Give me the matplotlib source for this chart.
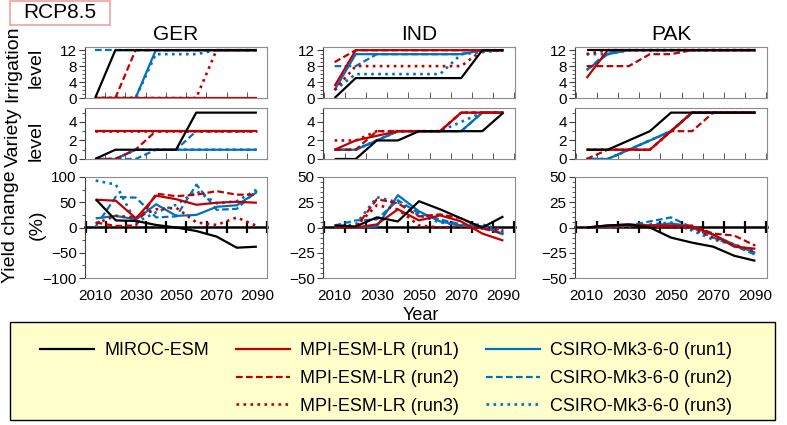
import matplotlib
matplotlib.use('Agg')
import matplotlib.pyplot as plt
from matplotlib import font_manager
from matplotlib.lines import Line2D
from matplotlib.patches import Rectangle
from matplotlib.ticker import MultipleLocator

W, H = 787, 425

YEARS = [2010, 2020, 2030, 2040, 2050, 2060, 2070, 2080, 2090]
BOUNDARIES = [2005, 2015, 2025, 2035, 2045, 2055, 2065, 2075, 2085, 2095]
COUNTRIES = ['GER', 'IND', 'PAK']

SERIES = ['MIROC-ESM',
          'MPI-ESM-LR (run1)', 'MPI-ESM-LR (run2)', 'MPI-ESM-LR (run3)',
          'CSIRO-Mk3-6-0 (run1)', 'CSIRO-Mk3-6-0 (run2)', 'CSIRO-Mk3-6-0 (run3)']

# rows follow SERIES order
GER_IRR = [
    [0, 12, 12, 12, 12, 12, 12, 12, 12],
    [0, 0, 0, 0, 0, 0, 0, 0, 0],
    [0, 0, 12, 12, 12, 12, 12, 12, 12],
    [0, 0, 0, 0, 0, 0, 12, 12, 12],
    [0, 0, 0, 12, 12, 12, 12, 12, 12],
    [12, 12, 12, 12, 12, 12, 12, 12, 12],
    [0, 0, 0, 11, 11, 11, 12, 12, 12],
]
IND_IRR = [
    [0, 5, 5, 5, 5, 5, 5, 12, 12],
    [3, 12, 12, 12, 12, 12, 12, 12, 12],
    [9, 12, 12, 12, 12, 12, 12, 12, 12],
    [2, 8, 8, 8, 8, 8, 8, 12, 12],
    [2, 11, 11, 11, 11, 11, 11, 12, 12],
    [8, 8, 11, 11, 11, 11, 11, 12, 12],
    [2, 6, 6, 6, 6, 6, 11, 11.5, 12],
]
PAK_IRR = [
    [12, 12, 12, 12, 12, 12, 12, 12, 12],
    [5, 12, 12, 12, 12, 12, 12, 12, 12],
    [8, 8, 8, 11, 11, 12, 12, 12, 12],
    [11, 12, 12, 12, 12, 12, 12, 12, 12],
    [7, 11, 12, 12, 12, 12, 12, 12, 12],
    [7, 11.5, 12, 12, 12, 12, 12, 12, 12],
    [11, 11, 12, 12, 12, 12, 12, 12, 12],
]

GER_VAR = [
    [0, 1, 1, 1, 1, 5, 5, 5, 5],
    [3, 3, 3, 3, 3, 3, 3, 3, 3],
    [0, 0, 1, 3, 3, 3, 3, 3, 3],
    [3, 3, 3, 3, 3, 3, 3, 3, 3],
    [0, 0, 1, 1, 1, 1, 1, 1, 1],
    [0, 0, 0, 1, 1, 3, 3, 3, 3],
    [0, 0, 1, 1, 1, 1, 1, 1, 1],
]
IND_VAR = [
    [0, 0, 2, 2, 3, 3, 3, 3, 5],
    [1, 2, 2.5, 3, 3, 3, 5, 5, 5],
    [1, 1, 3, 3, 3, 3, 5, 5, 5],
    [2, 2, 3, 3, 3, 3, 5, 5, 5],
    [1, 1, 2, 3, 3, 3, 3, 5, 5],
    [1, 1, 2, 3, 3, 3, 3, 5, 5],
    [1, 1, 2, 3, 3, 3, 4, 5, 5],
]
PAK_VAR = [
    [1, 1, 2, 3, 5, 5, 5, 5, 5],
    [1, 1, 1, 1, 3, 5, 5, 5, 5],
    [0, 1, 1, 1, 3, 3, 5, 5, 5],
    [1, 1, 1, 1, 3, 5, 5, 5, 5],
    [0, 0, 1, 2, 3, 5, 5, 5, 5],
    [0, 0, 1, 2, 3, 5, 5, 5, 5],
    [0, 0, 1, 2, 3, 5, 5, 5, 5],
]

GER_YLD = [
    [56, 14, 13, 5, 0, -7, -18, -40, -38],
    [55, 53, 18, 63, 56, 45, 49, 51, 49],
    [10, 3, 4, 67, 62, 65, 72, 65, 65],
    [8, 23, 20, 36, 39, 10, 5, 20, 3],
    [18, 23, 16, 46, 23, 25, 41, 44, 70],
    [2, 61, 59, 20, 22, 85, 35, 37, 73],
    [93, 85, 10, 30, 45, 72, 48, 52, 75],
]
IND_YLD = [
    [2, 1, 10, 6, 26, 18, 9, 0, 11],
    [1, 0, 3, 18, 7, 12, 6, -6, -13],
    [1, 0, 28, 24, 11, 13, 9, -1, -6],
    [1, 1, 22, 18, 2, 0, 1, -1, -3],
    [1, 0, 1, 32, 16, 6, 2, 1, -7],
    [2, 7, 8, 27, 14, 8, 3, 1, -5],
    [1, 3, 30, 25, 12, 5, 2, 3, -3],
]
PAK_YLD = [
    [0, 2, 3, 0, -10, -15, -19, -28, -33],
    [0, 2, 3, 2, 2, 1, -7, -19, -21],
    [0, 1, 2, 1, 1, 2, -6, -8, -18],
    [0, 1, 2, 1, 1, -1, -10, -17, -24],
    [0, 1, 2, 2, 4, 1, -7, -17, -25],
    [0, 0, 2, 6, 10, 0, -10, -18, -27],
    [0, 0, 1, 3, 5, -3, -12, -17, -24],
]

RED = '#C00000'
BLUE = '#0070C0'
COLORS = ['black', RED, RED, RED, BLUE, BLUE, BLUE]
DASH = (0, (3, 1.5))
STYLES = ['-', '-', DASH, ':', '-', DASH, ':']
DRAW_ORDER = [6, 5, 4, 3, 2, 1, 0]  # blue first, black on top

names = {f.name for f in font_manager.fontManager.ttflist}
FONT = 'Liberation Sans Narrow' if 'Liberation Sans Narrow' in names else 'Liberation Sans'
plt.rcParams['font.family'] = [FONT, 'DejaVu Sans']


def px_rect(x0, x1, y0, y1):
    return [x0 / W, 1 - y1 / H, (x1 - x0) / W, (y1 - y0) / H]


fig = plt.figure(figsize=(W / 100, H / 100), dpi=100)

col_px = [(85, 267), (323, 515), (575, 767)]
row_px = [(47, 98), (108, 159), (177, 278)]
panel_data = [[GER_IRR, GER_VAR, GER_YLD],
              [IND_IRR, IND_VAR, IND_YLD],
              [PAK_IRR, PAK_VAR, PAK_YLD]]

for c, country in enumerate(COUNTRIES):
    for r in range(3):
        ax = fig.add_axes(px_rect(col_px[c][0], col_px[c][1], row_px[r][0], row_px[r][1]))
        data = panel_data[c][r]
        for i in DRAW_ORDER:
            ax.plot(YEARS, data[i], color=COLORS[i], linestyle=STYLES[i],
                    lw=1.6 if STYLES[i] != ':' else 1.9, solid_capstyle='butt')

        if c == 0:
            ax.set_xlim(2005.8, 2091) if r < 2 else ax.set_xlim(2004.7, 2093.9)
        else:
            ax.set_xlim(2004.5, 2095.5)

        for sp in ax.spines.values():
            sp.set_color('#8c8c8c')
        ax.spines['left'].set_color('#404040')
        ax.tick_params(axis='y', which='both', direction='out', colors='#404040',
                       labelcolor='black', labelsize=11, pad=2)
        ax.tick_params(axis='y', which='major', length=4)
        ax.tick_params(axis='y', which='minor', length=2.5)

        ax.set_xticks([2010, 2030, 2050, 2070, 2090])
        ax.set_xticks(BOUNDARIES, minor=True)

        if r == 0:
            ax.set_ylim(0, 12.8)
            ax.set_yticks([0, 4, 8, 12])
            ax.yaxis.set_minor_locator(MultipleLocator(1))
        elif r == 1:
            ax.set_ylim(0, 5.5)
            ax.set_yticks([0, 2, 4])
            ax.yaxis.set_minor_locator(MultipleLocator(1))
        else:
            if c == 0:
                ax.set_ylim(-100, 100)
                ax.set_yticks([-100, -50, 0, 50, 100])
                ax.yaxis.set_minor_locator(MultipleLocator(25))
            else:
                ax.set_ylim(-50, 50)
                ax.set_yticks([-50, -25, 0, 25, 50])
                ax.yaxis.set_minor_locator(MultipleLocator(5))

        if r < 2:
            ax.tick_params(axis='x', which='major', length=0, labelbottom=False)
            ax.tick_params(axis='x', which='minor', direction='in', length=4,
                           color='#404040')
        else:
            ax.tick_params(axis='x', which='major', length=0, labelsize=11, pad=8)
            ax.tick_params(axis='x', which='minor', length=0)
            zero = ax.secondary_xaxis(0.5)
            zero.set_xticks(BOUNDARIES, labels=[''] * len(BOUNDARIES))
            zero.tick_params(direction='inout', length=8, width=1.6, color='black')
            for sp in zero.spines.values():
                sp.set_color('black')
                sp.set_linewidth(1.8)

    fig.text((col_px[c][0] + col_px[c][1]) / 2 / W, 1 - 35 / H, country,
             ha='center', va='center', fontsize=15)

# row labels
fig.text(13 / W, 1 - 64 / H, 'Irrigation', rotation=90, ha='center', va='center', fontsize=14)
fig.text(36 / W, 1 - 68 / H, 'level', rotation=90, ha='center', va='center', fontsize=14)
fig.text(13 / W, 1 - 137 / H, 'Variety', rotation=90, ha='center', va='center', fontsize=14)
fig.text(36 / W, 1 - 141 / H, 'level', rotation=90, ha='center', va='center', fontsize=14)
fig.text(11 / W, 1 - 227 / H, 'Yield change', rotation=90, ha='center', va='center', fontsize=14)
fig.text(37 / W, 1 - 225 / H, '(%)', rotation=90, ha='center', va='center', fontsize=14)
fig.text(421 / W, 1 - 315 / H, 'Year', ha='center', va='center', fontsize=13)

# RCP label box
fig.add_artist(Rectangle((10 / W, 1 - 25 / H), 100 / W, 24 / H, transform=fig.transFigure,
                         facecolor='white', edgecolor='#F2A0A0', lw=1.2))
fig.text(60 / W, 1 - 13 / H, 'RCP8.5', ha='center', va='center', fontsize=15)

# legend
fig.add_artist(Rectangle((10 / W, 1 - 420 / H), 765 / W, 98 / H, transform=fig.transFigure,
                         facecolor='#FFFFCC', edgecolor='black', lw=1.0))
blank = Line2D([], [], color='none')
handles = [Line2D([], [], color=COLORS[i], linestyle=STYLES[i],
                  lw=1.6 if STYLES[i] != ':' else 1.9) for i in range(7)]
leg_handles = [handles[0], blank, blank] + handles[1:4] + handles[4:7]
leg_labels = [SERIES[0], '', ''] + SERIES[1:4] + SERIES[4:7]
fig.legend(leg_handles, leg_labels, ncol=3, loc='upper left',
           bbox_to_anchor=(40 / W, 1 - 342 / H), frameon=False, borderpad=0,
           borderaxespad=0, fontsize=13, handlelength=3.0, handletextpad=0.55,
           columnspacing=1.5, labelspacing=0.6)

fig.savefig('out.png', dpi=100)
